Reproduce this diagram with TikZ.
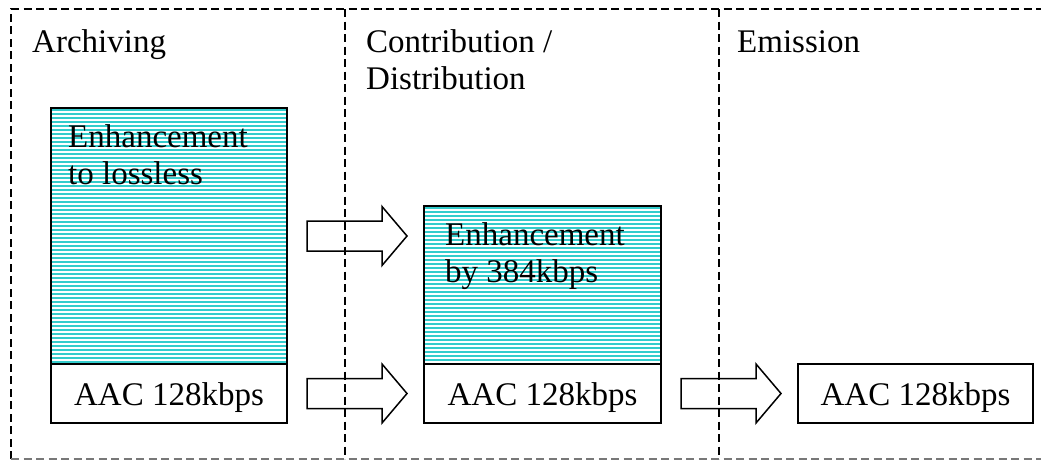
\documentclass[tikz,border=0pt]{standalone}
\usepackage{fontspec}
\setmainfont{Liberation Serif}
\usetikzlibrary{calc}
\definecolor{stripecyan}{RGB}{51,204,204}
\definecolor{dashgray}{RGB}{120,120,120}
\tikzset{
  frame/.style={line width=1.6pt, dash pattern=on 8pt off 4.5pt},
  stripeline/.style={line width=2pt, stripecyan},
  stripebox/.style={draw, line width=2pt, inner sep=0pt, path picture={
      \foreach \k in {2,6,...,400}
        \draw[stripeline] ([yshift=-\k pt]path picture bounding box.north west) -- ([yshift=-\k pt]path picture bounding box.north east);}},
  aacbox/.style={draw, line width=2pt, inner sep=0pt, minimum height=59pt, text height=23pt, text depth=0pt},
  txt/.style={inner sep=0pt},
  blockarrow/.style={draw, line width=1.5pt, line join=miter},
}
\begin{document}
\begin{tikzpicture}[x=1pt,y=-1pt, font=\fontsize{33}{37}\selectfont]
\useasboundingbox (0,0) rectangle (1041,461);

% boxes
\node[stripebox, anchor=north west, minimum width=236pt, minimum height=256pt] (enh1) at (50,107) {};
\node[aacbox, anchor=north west, minimum width=236pt] (aac1) at (50,363) {AAC 128kbps};
\node[stripebox, anchor=north west, minimum width=237pt, minimum height=158pt] (enh2) at (423,205) {};
\node[aacbox, anchor=north west, minimum width=237pt] (aac2) at (423,363) {AAC 128kbps};
\node[aacbox, anchor=north west, minimum width=235pt] (aac3) at (797,363) {AAC 128kbps};

% box texts (base anchor = baseline of last line)
\node[txt, anchor=base west, align=left] (enh1text) at (68,184) {Enhancement\\to lossless};
\node[txt, anchor=base west, align=left] (enh2text) at (445,282) {Enhancement\\by 384kbps};

% headers
\node[txt, anchor=base west] (arch) at (32,52) {Archiving};
\node[txt, anchor=base west, align=left] (contrib) at (366,89) {Contribution /\\Distribution};
\node[txt, anchor=base west] (emis) at (737,52) {Emission};

% frame
\coordinate (tl) at (11,9);
\coordinate (tr) at (1041,9);
\coordinate (bl) at (11,459);
\coordinate (br) at (1041,459);
\coordinate (d1t) at (345,9);
\coordinate (d1b) at (345,459);
\coordinate (d2t) at (719,9);
\coordinate (d2b) at (719,459);
\draw[frame] (bl) -- (tl) -- (tr);
\draw[frame] (d1t) -- (d1b);
\draw[frame] (d2t) -- (d2b);
\draw[frame, dashgray] (bl) -- (br);

% block arrows
\draw[blockarrow] ($(enh1.east)+(19,0)$) ++(0,-15) -- ++(75,0) -- ++(0,-14.5) -- ++(25,29.5) -- ++(-25,29.5) -- ++(0,-14.5) -- ++(-75,0) -- cycle;
\draw[blockarrow] ($(aac1.east)+(19,0)$) ++(0,-15) -- ++(75,0) -- ++(0,-14.5) -- ++(25,29.5) -- ++(-25,29.5) -- ++(0,-14.5) -- ++(-75,0) -- cycle;
\draw[blockarrow] ($(aac2.east)+(19,0)$) ++(0,-15) -- ++(75,0) -- ++(0,-14.5) -- ++(25,29.5) -- ++(-25,29.5) -- ++(0,-14.5) -- ++(-75,0) -- cycle;
\end{tikzpicture}
\end{document}
